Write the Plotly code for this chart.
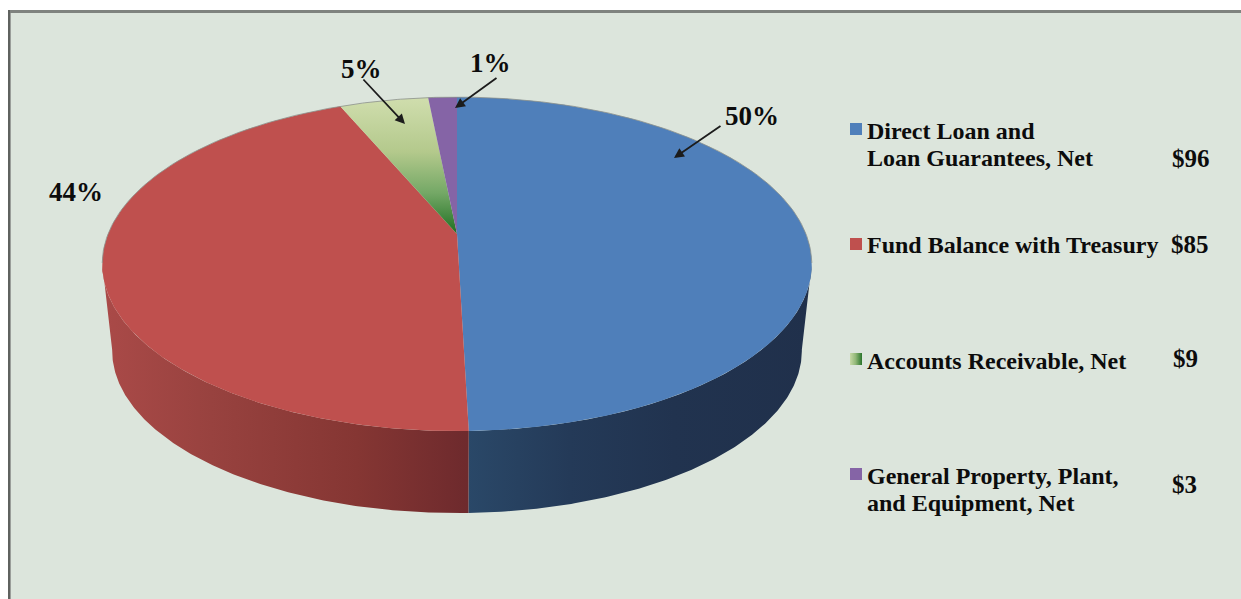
import numpy as np
import plotly.graph_objects as go

# values
categories = [["Direct Loan and", "Loan Guarantees, Net"], ["Fund Balance with Treasury"],
              ["Accounts Receivable, Net"], ["General Property, Plant,", "and Equipment, Net"]]
# unrounded estimates from the slice sizes, printed rounded in amount_labels
amounts = [95.6, 85.0, 9.3, 3.0]
amount_labels = ["$96", "$85", "$9", "$3"]
percent_labels = ["50%", "44%", "5%", "1%"]

BLUE = "#4f7fba"
RED = "#bf504e"
PURPLE = "#8564a6"
GREEN_SCALE = [[0, "#d0deae"], [0.4, "#b4c98c"], [0.7, "#74a866"], [1, "#1f6f22"]]
RED_WALL = [[0, "#aa4a48"], [0.3, "#98423f"], [0.7, "#853633"], [1, "#6e2a2d"]]
BLUE_WALL = [[0, "#2a4868"], [0.3, "#243a58"], [0.6, "#21334f"], [1, "#20304b"]]
BG = "#dce5dc"

# perspective of the tilted disc, in page pixels
CX, CY_TOP, CY_BOTTOM = 457, 234, 321.5
HALF_W, HALF_H, TILT = 349, 161.6, 0.18
BOTTOM_SCALE = 0.972


def project(theta_deg, cy=CY_TOP, scale=1.0):
    t = np.radians(theta_deg)
    u, v = np.sin(t), np.cos(t)
    w = 1 + TILT * v
    return CX + scale * HALF_W * u / w, cy - scale * HALF_H * v / w


def arc(a, b):
    return np.linspace(a, b, max(int(abs(b - a)) * 2, 2) + 1)


edges = np.cumsum([0] + amounts) / sum(amounts) * 360

fig = go.Figure()


def add_poly(x, y, color=None, gradient=None, line=None):
    fig.add_trace(go.Scatter(
        x=x, y=y, mode="lines", fill="toself", hoverinfo="skip", showlegend=False,
        fillcolor=color, fillgradient=gradient,
        line=dict(width=0.6 if line else 0, color=line or "rgba(0,0,0,0)"),
    ))


# side walls, only the front half of the disc shows
left_tangent, right_tangent = 260, 100
for a, b, scale_, x0, x1 in [
    (right_tangent, edges[1], BLUE_WALL, 467, 812),
    (edges[1], left_tangent, RED_WALL, 102, 467),
]:
    th = arc(a, b)
    tx, ty = project(th)
    bx, by = project(th[::-1], CY_BOTTOM, BOTTOM_SCALE)
    grad = dict(type="horizontal", colorscale=scale_, start=x0, stop=x1)
    add_poly(np.r_[tx, bx], np.r_[ty, by], gradient=grad)

# top faces
faces = [dict(color=BLUE), dict(color=RED),
         dict(gradient=dict(type="vertical", colorscale=GREEN_SCALE, start=97, stop=234)),
         dict(color=PURPLE)]
for i, style in enumerate(faces):
    rx, ry = project(arc(edges[i], edges[i + 1]))
    add_poly(np.r_[CX, rx, CX], np.r_[CY_TOP, ry, CY_TOP], **style)

# thin grey rim round the back of the disc
rx, ry = project(arc(-100, 100))
fig.add_trace(go.Scatter(x=rx, y=ry, mode="lines", hoverinfo="skip", showlegend=False,
                         line=dict(color="#8b908c", width=0.8)))

# legend, hand placed like the original
legend_swatch_y = [129, 244, 359, 474]
legend_text_y = [131, 245, 361, 476]
LINE_GAP = 27
amount_x = [1170, 1169, 1171, 1170]
amount_y = [158, 244, 358, 484]
swatch_styles = [dict(color=BLUE), dict(color=RED),
                 dict(gradient=dict(type="horizontal",
                                    colorscale=[[0, "#d0deae"], [0.5, "#92b878"], [1, "#2a752b"]],
                                    start=849, stop=862)),
                 dict(color=PURPLE)]
for y, style in zip(legend_swatch_y, swatch_styles):
    add_poly([850, 862, 862, 850, 850], [y - 6, y - 6, y + 6, y + 6, y - 6], **style)

LEGEND_FONT = dict(family="Liberation Serif", size=24, color="#0c0c0c")
annotations = []
for lines, y in zip(categories, legend_text_y):
    for n, line in enumerate(lines):
        annotations.append(dict(x=865, y=y + n * LINE_GAP, xref="x", yref="y", text=f"<b>{line}</b>",
                                showarrow=False, xanchor="left", yanchor="middle", font=LEGEND_FONT))
for label, x, y in zip(amount_labels, amount_x, amount_y):
    annotations.append(dict(x=x, y=y, xref="x", yref="y", text=f"<b>{label}</b>", showarrow=False,
                            xanchor="left", yanchor="middle", font=dict(LEGEND_FONT, size=25)))

# percent labels and their arrows
label_pos = [(752, 116), (76, 192), (361, 69), (490, 63)]
arrows = [((722, 125), (674, 158)), None, ((362, 78), (405, 124)), ((498, 77), (455, 108))]
PCT_FONT = dict(family="Liberation Serif", size=27, color="#0c0c0c")
for label, (x, y) in zip(percent_labels, label_pos):
    annotations.append(dict(x=x, y=y, xref="x", yref="y", text=f"<b>{label}</b>", showarrow=False,
                            font=PCT_FONT))
for arrow in arrows:
    if arrow:
        (tx, ty), (hx, hy) = arrow
        annotations.append(dict(x=hx, y=hy, ax=tx, ay=ty, xref="x", yref="y", axref="x", ayref="y",
                                text="", showarrow=True, arrowhead=2, arrowsize=1.1, arrowwidth=1.8,
                                arrowcolor="#1c1c1c"))

fig.update_layout(
    width=1241, height=599, margin=dict(l=0, r=0, t=0, b=0),
    autosize=False, paper_bgcolor="white", plot_bgcolor="white", showlegend=False,
    xaxis=dict(range=[0, 1241], visible=False, fixedrange=True),
    yaxis=dict(range=[599, 0], visible=False, fixedrange=True),
    annotations=annotations,
    shapes=[
        dict(type="rect", x0=8, x1=1241, y0=10, y1=599, layer="below", line_width=0, fillcolor="#7f837f"),
        dict(type="rect", x0=8, x1=10, y0=10, y1=599, layer="below", line_width=0, fillcolor="#5f625f"),
        dict(type="rect", x0=10, x1=11, y0=13, y1=599, layer="below", line_width=0, fillcolor="#9a9e9a"),
        dict(type="rect", x0=11, x1=1241, y0=13, y1=599, layer="below", line_width=0, fillcolor=BG),
    ],
)

# drop the default page margin so the figure fills the window
fig.write_html("out.html", config=dict(displayModeBar=False),
               post_script="document.body.style.margin='0';document.documentElement.style.overflow='hidden';")
